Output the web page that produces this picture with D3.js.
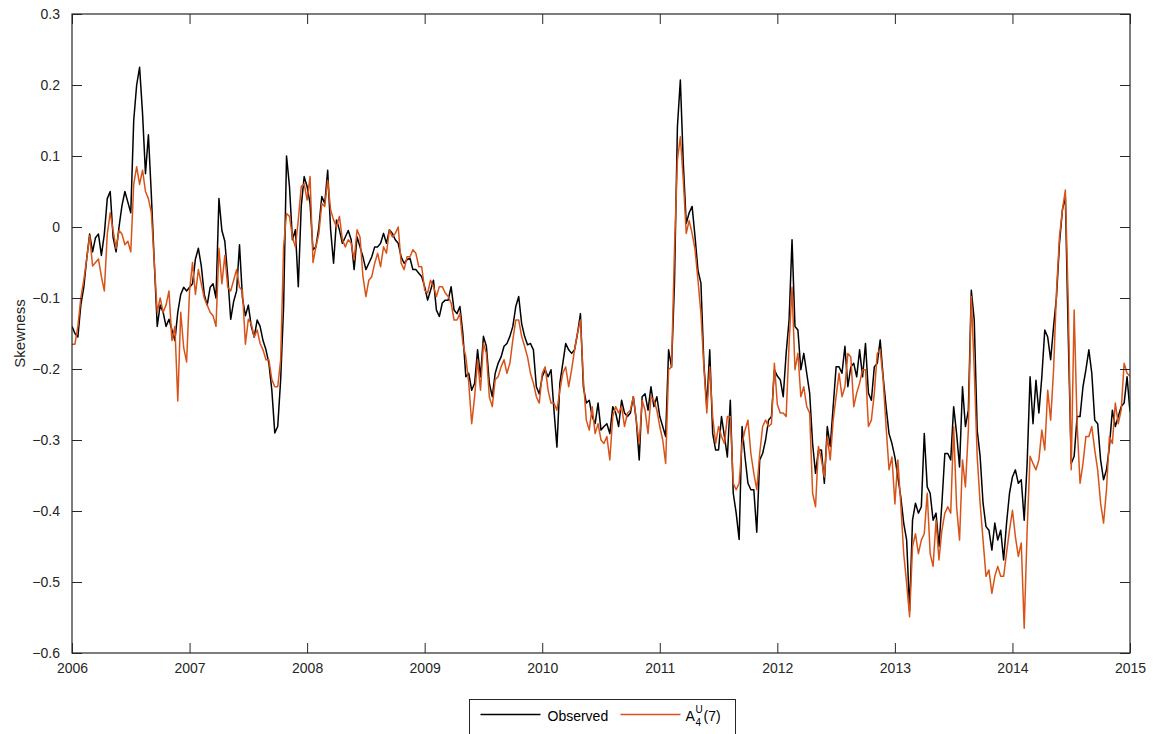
<!DOCTYPE html>
<html>
<head>
<meta charset="utf-8">
<script src="https://cdn.jsdelivr.net/npm/d3@7"></script>
<style>
    body { margin: 0; background: #fff; }
    .axis text { font-family: "Liberation Sans", Arial, sans-serif; font-size: 14px; fill: #262626; }
    .axis line { stroke: #262626; }
</style>
</head>
<body>
<svg id="chart"></svg>
<script>
// sampled every 1/40 year from 2006.0 to 2015.0
const startYear = 2006;
const stepsPerYear = 40;
const yearTicks = [2006, 2007, 2008, 2009, 2010, 2011, 2012, 2013, 2014, 2015];
const skewTicks = [0.3, 0.2, 0.1, 0, -0.1, -0.2, -0.3, -0.4, -0.5, -0.6];

const observed = [
    // 2006
    -0.14, -0.15, -0.155, -0.11, -0.085, -0.045, -0.01, -0.035, -0.015, -0.01,
    -0.04, -0.01, 0.04, 0.05, -0.015, -0.035, 0.0, 0.03, 0.05, 0.035,
    0.02, 0.15, 0.2, 0.225, 0.16, 0.075, 0.13, 0.045, -0.05, -0.14,
    -0.11, -0.12, -0.14, -0.13, -0.145, -0.16, -0.12, -0.095, -0.085, -0.09,
    // 2007
    -0.085, -0.08, -0.045, -0.03, -0.055, -0.095, -0.11, -0.085, -0.08, -0.1,
    0.04, -0.005, -0.02, -0.07, -0.13, -0.105, -0.09, -0.025, -0.10, -0.125,
    -0.11, -0.14, -0.155, -0.131, -0.14, -0.16, -0.173, -0.192, -0.23, -0.29,
    -0.281, -0.215, -0.112, 0.10, 0.057, -0.018, -0.004, -0.084, 0.029, 0.071,
    // 2008
    0.057, 0.033, -0.032, -0.028, 0.0, 0.043, 0.033, 0.08, -0.004, -0.051,
    0.01, -0.004, -0.023, -0.014, -0.005, -0.018, -0.06, -0.014, -0.028, -0.042,
    -0.06, -0.051, -0.042, -0.028, -0.028, -0.023, -0.009, -0.023, -0.004, -0.009,
    -0.018, -0.023, -0.042, -0.051, -0.046, -0.044, -0.06, -0.06, -0.065, -0.07,
    // 2009
    -0.084, -0.103, -0.089, -0.075, -0.117, -0.126, -0.107, -0.103, -0.103, -0.084,
    -0.117, -0.122, -0.112, -0.15, -0.211, -0.206, -0.23, -0.22, -0.173, -0.211,
    -0.154, -0.168, -0.22, -0.239, -0.206, -0.192, -0.183, -0.168, -0.164, -0.154,
    -0.14, -0.112, -0.098, -0.136, -0.154, -0.166, -0.164, -0.173, -0.225, -0.235,
    // 2010
    -0.211, -0.201, -0.211, -0.201, -0.258, -0.31, -0.22, -0.192, -0.164, -0.173,
    -0.178, -0.173, -0.15, -0.122, -0.225, -0.248, -0.244, -0.267, -0.277, -0.248,
    -0.286, -0.281, -0.277, -0.291, -0.253, -0.262, -0.281, -0.244, -0.262, -0.267,
    -0.262, -0.239, -0.272, -0.328, -0.239, -0.235, -0.258, -0.225, -0.253, -0.239,
    // 2011
    -0.267, -0.281, -0.295, -0.173, -0.197, -0.079, 0.141, 0.207, 0.09, 0.005,
    0.02, 0.029, -0.014, -0.061, -0.079, -0.192, -0.253, -0.173, -0.291, -0.314,
    -0.314, -0.267, -0.295, -0.324, -0.244, -0.375, -0.403, -0.44, -0.281, -0.324,
    -0.361, -0.37, -0.37, -0.43, -0.328, -0.319, -0.3, -0.272, -0.267, -0.201,
    // 2012
    -0.21, -0.215, -0.239, -0.178, -0.131, -0.018, -0.14, -0.145, -0.201, -0.178,
    -0.206, -0.234, -0.305, -0.347, -0.314, -0.314, -0.361, -0.281, -0.309, -0.253,
    -0.197, -0.197, -0.206, -0.168, -0.225, -0.197, -0.192, -0.211, -0.173, -0.211,
    -0.164, -0.234, -0.244, -0.197, -0.192, -0.159, -0.211, -0.253, -0.291, -0.305,
    // 2013
    -0.324, -0.352, -0.38, -0.417, -0.441, -0.54, -0.413, -0.389, -0.403, -0.394,
    -0.291, -0.366, -0.375, -0.413, -0.403, -0.45, -0.389, -0.319, -0.319, -0.328,
    -0.253, -0.291, -0.338, -0.225, -0.281, -0.258, -0.089, -0.131, -0.286, -0.323,
    -0.389, -0.422, -0.427, -0.455, -0.417, -0.441, -0.427, -0.469, -0.417, -0.375,
    // 2014
    -0.352, -0.342, -0.361, -0.356, -0.413, -0.333, -0.211, -0.277, -0.216, -0.262,
    -0.211, -0.145, -0.155, -0.187, -0.14, -0.098, -0.023, 0.024, 0.043, -0.155,
    -0.333, -0.323, -0.267, -0.267, -0.225, -0.201, -0.173, -0.206, -0.272, -0.277,
    -0.328, -0.356, -0.342, -0.309, -0.258, -0.281, -0.267, -0.253, -0.248, -0.211,
    // 2015
    -0.26
];

const fitted = [
    // 2006
    -0.165, -0.165, -0.14, -0.10, -0.075, -0.045, -0.012, -0.055, -0.05, -0.045,
    -0.07, -0.09, -0.01, 0.02, -0.005, -0.03, -0.005, -0.01, -0.025, -0.02,
    -0.035, 0.06, 0.085, 0.06, 0.08, 0.05, 0.04, 0.02, -0.05, -0.12,
    -0.10, -0.12, -0.11, -0.09, -0.16, -0.14, -0.245, -0.12, -0.17, -0.19,
    // 2007
    -0.09, -0.05, -0.095, -0.06, -0.08, -0.10, -0.11, -0.12, -0.125, -0.14,
    -0.03, -0.08, -0.04, -0.085, -0.09, -0.075, -0.06, -0.085, -0.09, -0.165,
    -0.13, -0.136, -0.155, -0.145, -0.164, -0.173, -0.187, -0.187, -0.215, -0.225,
    -0.225, -0.187, -0.028, 0.019, 0.015, -0.014, -0.028, 0.01, 0.057, 0.061,
    // 2008
    0.038, 0.071, -0.05, -0.028, -0.009, 0.033, 0.029, 0.066, 0.024, 0.01,
    0.0, 0.015, -0.018, -0.028, -0.018, -0.023, -0.046, -0.004, -0.014, -0.07,
    -0.098, -0.075, -0.07, -0.051, -0.037, -0.056, -0.028, -0.037, -0.004, -0.014,
    -0.009, 0.0, -0.051, -0.06, -0.042, -0.042, -0.032, -0.037, -0.056, -0.056,
    // 2009
    -0.089, -0.093, -0.075, -0.084, -0.098, -0.084, -0.084, -0.093, -0.098, -0.107,
    -0.131, -0.131, -0.122, -0.164, -0.183, -0.22, -0.277, -0.239, -0.187, -0.23,
    -0.164, -0.178, -0.239, -0.253, -0.215, -0.211, -0.197, -0.187, -0.206, -0.192,
    -0.159, -0.131, -0.131, -0.154, -0.168, -0.183, -0.206, -0.22, -0.239, -0.248,
    // 2010
    -0.206, -0.197, -0.23, -0.248, -0.248, -0.258, -0.23, -0.206, -0.197, -0.225,
    -0.201, -0.173, -0.15, -0.131, -0.215, -0.272, -0.286, -0.253, -0.291, -0.277,
    -0.3, -0.305, -0.295, -0.328, -0.267, -0.253, -0.262, -0.253, -0.281, -0.262,
    -0.258, -0.239, -0.272, -0.305, -0.244, -0.258, -0.291, -0.239, -0.244, -0.258,
    // 2011
    -0.281, -0.3, -0.333, -0.201, -0.197, -0.032, 0.094, 0.127, 0.066, -0.009,
    0.009, -0.009, -0.032, -0.075, -0.122, -0.197, -0.262, -0.197, -0.267, -0.305,
    -0.281, -0.295, -0.305, -0.267, -0.267, -0.361, -0.37, -0.361, -0.305, -0.286,
    -0.272, -0.319, -0.347, -0.37, -0.319, -0.281, -0.272, -0.281, -0.277, -0.192,
    // 2012
    -0.25, -0.262, -0.262, -0.267, -0.164, -0.085, -0.201, -0.178, -0.239, -0.225,
    -0.253, -0.262, -0.375, -0.394, -0.309, -0.328, -0.352, -0.295, -0.328, -0.272,
    -0.239, -0.206, -0.239, -0.225, -0.178, -0.183, -0.253, -0.234, -0.22, -0.201,
    -0.201, -0.281, -0.272, -0.234, -0.178, -0.173, -0.215, -0.281, -0.342, -0.324,
    // 2013
    -0.39, -0.328, -0.39, -0.46, -0.502, -0.549, -0.45, -0.432, -0.46, -0.441,
    -0.432, -0.375, -0.46, -0.478, -0.413, -0.469, -0.427, -0.403, -0.394, -0.403,
    -0.281, -0.394, -0.441, -0.328, -0.366, -0.286, -0.098, -0.201, -0.323, -0.389,
    -0.441, -0.492, -0.483, -0.516, -0.492, -0.478, -0.492, -0.492, -0.459, -0.427,
    // 2014
    -0.399, -0.436, -0.464, -0.445, -0.565, -0.427, -0.323, -0.333, -0.342, -0.328,
    -0.286, -0.314, -0.23, -0.272, -0.201, -0.089, -0.014, 0.024, 0.052, -0.108,
    -0.342, -0.117, -0.277, -0.361, -0.333, -0.295, -0.295, -0.281, -0.314, -0.342,
    -0.389, -0.417, -0.37, -0.295, -0.305, -0.248, -0.277, -0.258, -0.192, -0.206,
    // 2015
    -0.21
];

const config = {
    containerWidth: 1160,
    containerHeight: 734,
    margin: { top: 14, right: 30, bottom: 81, left: 72 }
};

const width = config.containerWidth - config.margin.left - config.margin.right;
const height = config.containerHeight - config.margin.top - config.margin.bottom;

const svg = d3.select('#chart')
    .attr('width', config.containerWidth)
    .attr('height', config.containerHeight);

const chart = svg.append('g')
    .attr('transform', `translate(${config.margin.left},${config.margin.top})`);

const xScale = d3.scaleLinear()
    .domain([2006, 2015])
    .range([0, width]);

const yScale = d3.scaleLinear()
    .domain([-0.6, 0.3])
    .range([height, 0]);

const toYear = i => startYear + i / stepsPerYear;

chart.append('clipPath').attr('id', 'plot-clip')
    .append('rect').attr('width', width).attr('height', height);

const line = d3.line()
    .x((d, i) => xScale(toYear(i)))
    .y(d => yScale(d));

const plot = chart.append('g').attr('clip-path', 'url(#plot-clip)');

plot.append('path')
    .datum(observed)
    .attr('fill', 'none')
    .attr('stroke', '#000000')
    .attr('stroke-width', 1.5)
    .attr('stroke-linejoin', 'round')
    .attr('d', line);

plot.append('path')
    .datum(fitted)
    .attr('fill', 'none')
    .attr('stroke', '#D95319')
    .attr('stroke-width', 1.5)
    .attr('stroke-linejoin', 'round')
    .attr('d', line);

// axes, ticks pointing inward like matlab
const fmtY = d => d === 0 ? '0' : d3.format('.1f')(d);

chart.append('g')
    .attr('class', 'axis')
    .call(d3.axisLeft(yScale).tickValues(skewTicks).tickFormat(fmtY)
        .tickSizeInner(-10).tickSizeOuter(0).tickPadding(12))
    .call(g => g.select('.domain').remove());

chart.append('g')
    .attr('class', 'axis')
    .attr('transform', `translate(${width},0)`)
    .call(d3.axisRight(yScale).tickValues(skewTicks).tickFormat('')
        .tickSizeInner(-10).tickSizeOuter(0))
    .call(g => g.select('.domain').remove());

chart.append('g')
    .attr('class', 'axis')
    .attr('transform', `translate(0,${height})`)
    .call(d3.axisBottom(xScale).tickValues(yearTicks).tickFormat(d3.format('d'))
        .tickSizeInner(-10).tickSizeOuter(0).tickPadding(10))
    .call(g => g.select('.domain').remove());

chart.append('g')
    .attr('class', 'axis')
    .call(d3.axisTop(xScale).tickValues(yearTicks).tickFormat('')
        .tickSizeInner(-10).tickSizeOuter(0))
    .call(g => g.select('.domain').remove());

chart.append('rect')
    .attr('width', width)
    .attr('height', height)
    .attr('fill', 'none')
    .attr('stroke', '#262626')
    .attr('stroke-width', 1.2);

svg.append('text')
    .attr('transform', `translate(25,${config.margin.top + height / 2}) rotate(-90)`)
    .attr('text-anchor', 'middle')
    .style('font-family', '"Liberation Sans", Arial, sans-serif')
    .style('font-size', '15px')
    .style('fill', '#262626')
    .text('Skewness');

// legend
const legend = svg.append('g').attr('transform', 'translate(469.5,699.5)');
legend.append('rect')
    .attr('width', 266)
    .attr('height', 40)
    .attr('fill', '#fff')
    .attr('stroke', '#262626')
    .attr('stroke-width', 1);

legend.append('line')
    .attr('x1', 11).attr('x2', 71).attr('y1', 15).attr('y2', 15)
    .attr('stroke', '#000').attr('stroke-width', 1.5);
legend.append('text')
    .attr('x', 78).attr('y', 21)
    .style('font-family', '"Liberation Sans", Arial, sans-serif')
    .style('font-size', '14px').style('fill', '#000')
    .text('Observed');

legend.append('line')
    .attr('x1', 151).attr('x2', 211).attr('y1', 15).attr('y2', 15)
    .attr('stroke', '#D95319').attr('stroke-width', 1.5);
const lab = legend.append('text')
    .attr('x', 216).attr('y', 21)
    .style('font-family', '"Liberation Sans", Arial, sans-serif')
    .style('font-size', '14px').style('fill', '#000');
lab.append('tspan').text('A');
lab.append('tspan').attr('x', 226).attr('y', 13).style('font-size', '10px').text('U');
lab.append('tspan').attr('x', 226).attr('y', 26).style('font-size', '10px').text('4');
lab.append('tspan').attr('x', 234).attr('y', 21).text('(7)');
</script>
</body>
</html>
